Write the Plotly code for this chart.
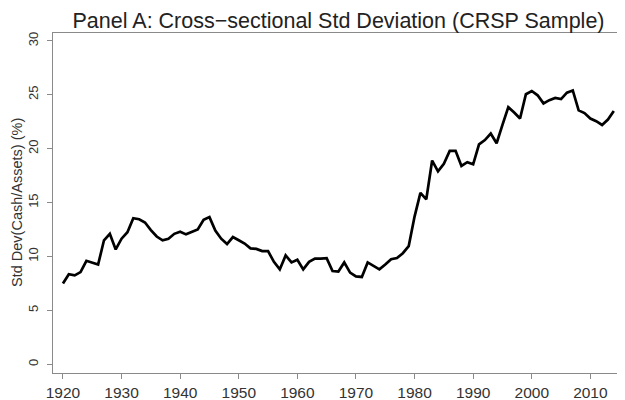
import plotly.graph_objects as go

years = list(range(1920, 2015))
std_dev = [
    7.5, 8.35, 8.25, 8.55, 9.6, 9.45, 9.25, 11.5, 12.1, 10.65,      # 1920-1929
    11.65, 12.25, 13.55, 13.45, 13.15, 12.45, 11.85, 11.5, 11.65, 12.1,  # 1930-1939
    12.3, 12.05, 12.3, 12.5, 13.4, 13.65, 12.4, 11.65, 11.15, 11.8,  # 1940-1949
    11.5, 11.2, 10.75, 10.7, 10.5, 10.5, 9.5, 8.8, 10.1, 9.45,       # 1950-1959
    9.7, 8.8, 9.5, 9.8, 9.8, 9.85, 8.65, 8.6, 9.45, 8.5,             # 1960-1969
    8.15, 8.1, 9.45, 9.1, 8.8, 9.25, 9.75, 9.85, 10.3, 10.95,        # 1970-1979
    13.7, 15.9, 15.3, 18.9, 17.9, 18.6, 19.8, 19.8, 18.4, 18.75,     # 1980-1989
    18.55, 20.4, 20.8, 21.4, 20.5, 22.2, 23.85, 23.35, 22.8, 25.05,  # 1990-1999
    25.35, 24.95, 24.2, 24.5, 24.7, 24.6, 25.2, 25.4, 23.55, 23.3,   # 2000-2009
    22.8, 22.55, 22.2, 22.7, 23.5,                                   # 2010-2014
]
x_ticks = [1920, 1930, 1940, 1950, 1960, 1970, 1980, 1990, 2000, 2010]
y_ticks = [0, 5, 10, 15, 20, 25, 30]

title_text = "Panel A: Cross\u2212sectional Std Deviation (CRSP Sample)"
y_title = "Std Dev(Cash/Assets) (%)"

fig = go.Figure()
fig.add_trace(go.Scatter(
    x=years, y=std_dev, mode="lines",
    line=dict(color="black", width=2.7),
    showlegend=False, hoverinfo="skip",
))

font_family = "Liberation Sans, Arial, sans-serif"
frame_color = "#8a8a8a"

# The page body adds an 8px offset, so the figure is sized/margined to compensate.
fig.update_layout(
    width=617, height=392,
    margin=dict(l=45, r=3, t=25, b=27, autoexpand=False),
    paper_bgcolor="white", plot_bgcolor="white",
    font=dict(family=font_family, color="#333333"),
    title=dict(text=title_text, x=0.5357, xanchor="center",
               yref="container", y=0.987, yanchor="top", pad=dict(t=0, b=0),
               font=dict(size=21.5, color="#222222", family=font_family)),
    annotations=[dict(
        text=y_title, xref="paper", yref="paper", x=0, y=0.5,
        xanchor="center", yanchor="middle", xshift=-36, textangle=-90,
        showarrow=False, font=dict(size=14.5, color="#333333", family=font_family),
    )],
)
fig.update_xaxes(
    range=[1918.3, 2015.4], automargin=False,
    tickmode="array", tickvals=x_ticks, ticktext=[str(v) for v in x_ticks],
    ticks="outside", ticklen=5, tickcolor=frame_color, tickwidth=1,
    showgrid=False, zeroline=False,
    showline=True, linecolor=frame_color, linewidth=1, mirror=True,
    tickfont=dict(size=15.5, color="#333333"),
)
fig.update_yaxes(
    range=[-0.81, 30.73], automargin=False,
    tickmode="array", tickvals=y_ticks, ticktext=[str(v) for v in y_ticks],
    ticks="outside", ticklen=5, tickcolor=frame_color, tickwidth=1,
    tickangle=-90, ticklabelstandoff=4,
    showgrid=False, zeroline=False,
    showline=True, linecolor=frame_color, linewidth=1, mirror=True,
    tickfont=dict(size=13, color="#333333"),
)

fig.write_html("out.html")
